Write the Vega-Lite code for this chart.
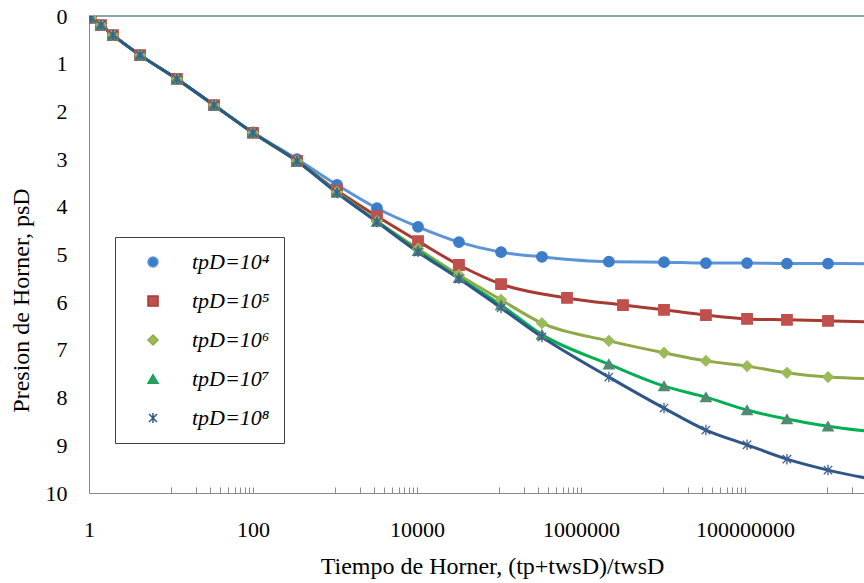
{
  "$schema": "https://vega.github.io/schema/vega-lite/v6.json",
  "width": 775,
  "height": 477,
  "autosize": {"type": "none"},
  "padding": {"left": 89, "top": 16, "right": 0, "bottom": 90},
  "background": "white",
  "config": {"view": {"stroke": null}},
  "data": {"values": [
    {"s":"tpD=10⁴","x":1.06,"y":0.04},{"s":"tpD=10⁴","x":1.4,"y":0.19},{"s":"tpD=10⁴","x":1.96,"y":0.4},{"s":"tpD=10⁴","x":4.2,"y":0.82},{"s":"tpD=10⁴","x":11.8,"y":1.32},{"s":"tpD=10⁴","x":33.5,"y":1.87},{"s":"tpD=10⁴","x":100,"y":2.44},{"s":"tpD=10⁴","x":344,"y":3.0},{"s":"tpD=10⁴","x":1060,"y":3.54},{"s":"tpD=10⁴","x":3250,"y":4.03},{"s":"tpD=10⁴","x":10300,"y":4.42},{"s":"tpD=10⁴","x":32500,"y":4.74},{"s":"tpD=10⁴","x":106000,"y":4.95},{"s":"tpD=10⁴","x":334000,"y":5.05},{"s":"tpD=10⁴","x":2190000,"y":5.15},{"s":"tpD=10⁴","x":10300000,"y":5.16},{"s":"tpD=10⁴","x":33400000,"y":5.18},{"s":"tpD=10⁴","x":106000000,"y":5.18},{"s":"tpD=10⁴","x":325000000,"y":5.19},{"s":"tpD=10⁴","x":1030000000,"y":5.19},{"s":"tpD=10⁴","x":8900000000,"y":5.2},
    {"s":"tpD=10⁵","x":1.06,"y":0.04},{"s":"tpD=10⁵","x":1.4,"y":0.19},{"s":"tpD=10⁵","x":1.96,"y":0.4},{"s":"tpD=10⁵","x":4.2,"y":0.82},{"s":"tpD=10⁵","x":11.8,"y":1.32},{"s":"tpD=10⁵","x":33.5,"y":1.87},{"s":"tpD=10⁵","x":100,"y":2.45},{"s":"tpD=10⁵","x":344,"y":3.04},{"s":"tpD=10⁵","x":1060,"y":3.66},{"s":"tpD=10⁵","x":3250,"y":4.2},{"s":"tpD=10⁵","x":10300,"y":4.72},{"s":"tpD=10⁵","x":32500,"y":5.22},{"s":"tpD=10⁵","x":106000,"y":5.62},{"s":"tpD=10⁵","x":675000,"y":5.91},{"s":"tpD=10⁵","x":3250000,"y":6.06},{"s":"tpD=10⁵","x":10300000,"y":6.16},{"s":"tpD=10⁵","x":33400000,"y":6.27},{"s":"tpD=10⁵","x":106000000,"y":6.35},{"s":"tpD=10⁵","x":325000000,"y":6.37},{"s":"tpD=10⁵","x":1030000000,"y":6.39},{"s":"tpD=10⁵","x":8900000000,"y":6.43},
    {"s":"tpD=10⁶","x":1.06,"y":0.04},{"s":"tpD=10⁶","x":1.4,"y":0.19},{"s":"tpD=10⁶","x":1.96,"y":0.4},{"s":"tpD=10⁶","x":4.2,"y":0.82},{"s":"tpD=10⁶","x":11.8,"y":1.32},{"s":"tpD=10⁶","x":33.5,"y":1.87},{"s":"tpD=10⁶","x":100,"y":2.45},{"s":"tpD=10⁶","x":344,"y":3.04},{"s":"tpD=10⁶","x":1060,"y":3.69},{"s":"tpD=10⁶","x":3250,"y":4.3},{"s":"tpD=10⁶","x":10300,"y":4.88},{"s":"tpD=10⁶","x":32500,"y":5.43},{"s":"tpD=10⁶","x":106000,"y":5.95},{"s":"tpD=10⁶","x":334000,"y":6.44},{"s":"tpD=10⁶","x":2190000,"y":6.81},{"s":"tpD=10⁶","x":10300000,"y":7.06},{"s":"tpD=10⁶","x":33400000,"y":7.23},{"s":"tpD=10⁶","x":106000000,"y":7.34},{"s":"tpD=10⁶","x":325000000,"y":7.48},{"s":"tpD=10⁶","x":1030000000,"y":7.57},{"s":"tpD=10⁶","x":8900000000,"y":7.62},
    {"s":"tpD=10⁷","x":1.06,"y":0.04},{"s":"tpD=10⁷","x":1.4,"y":0.19},{"s":"tpD=10⁷","x":1.96,"y":0.4},{"s":"tpD=10⁷","x":4.2,"y":0.82},{"s":"tpD=10⁷","x":11.8,"y":1.32},{"s":"tpD=10⁷","x":33.5,"y":1.87},{"s":"tpD=10⁷","x":100,"y":2.45},{"s":"tpD=10⁷","x":344,"y":3.04},{"s":"tpD=10⁷","x":1060,"y":3.7},{"s":"tpD=10⁷","x":3250,"y":4.31},{"s":"tpD=10⁷","x":10300,"y":4.92},{"s":"tpD=10⁷","x":32500,"y":5.49},{"s":"tpD=10⁷","x":106000,"y":6.06},{"s":"tpD=10⁷","x":334000,"y":6.68},{"s":"tpD=10⁷","x":2190000,"y":7.3},{"s":"tpD=10⁷","x":10300000,"y":7.76},{"s":"tpD=10⁷","x":33400000,"y":7.99},{"s":"tpD=10⁷","x":106000000,"y":8.26},{"s":"tpD=10⁷","x":325000000,"y":8.45},{"s":"tpD=10⁷","x":1030000000,"y":8.6},{"s":"tpD=10⁷","x":8900000000,"y":8.78},
    {"s":"tpD=10⁸","x":1.06,"y":0.04},{"s":"tpD=10⁸","x":1.4,"y":0.19},{"s":"tpD=10⁸","x":1.96,"y":0.4},{"s":"tpD=10⁸","x":4.2,"y":0.82},{"s":"tpD=10⁸","x":11.8,"y":1.32},{"s":"tpD=10⁸","x":33.5,"y":1.87},{"s":"tpD=10⁸","x":100,"y":2.45},{"s":"tpD=10⁸","x":344,"y":3.04},{"s":"tpD=10⁸","x":1060,"y":3.71},{"s":"tpD=10⁸","x":3250,"y":4.32},{"s":"tpD=10⁸","x":10300,"y":4.95},{"s":"tpD=10⁸","x":32500,"y":5.51},{"s":"tpD=10⁸","x":106000,"y":6.12},{"s":"tpD=10⁸","x":334000,"y":6.73},{"s":"tpD=10⁸","x":2190000,"y":7.57},{"s":"tpD=10⁸","x":10300000,"y":8.22},{"s":"tpD=10⁸","x":33400000,"y":8.68},{"s":"tpD=10⁸","x":106000000,"y":8.99},{"s":"tpD=10⁸","x":325000000,"y":9.29},{"s":"tpD=10⁸","x":1030000000,"y":9.52},{"s":"tpD=10⁸","x":8900000000,"y":9.83}
  ]},
  "encoding": {
    "x": {
      "field": "x", "type": "quantitative",
      "scale": {"type": "log", "domain": [1, 2830000000], "nice": false},
      "axis": {
        "title": "Tiempo de Horner, (tp+twsD)/twsD",
        "titleFont": "Liberation Serif", "titleFontSize": 24, "titleFontWeight": "normal", "titleColor": "#000000", "titlePadding": 14, "titleX": 403,
        "labelFont": "Liberation Serif", "labelFontSize": 22, "labelColor": "#000000", "labelPadding": 32,
        "labelOverlap": false, "labelFlush": false, "labelBound": false,
        "values": [1,10,20,30,40,50,60,70,80,90,100,1000,2000,3000,4000,5000,6000,7000,8000,9000,10000,100000,200000,300000,400000,500000,600000,700000,800000,900000,1000000,10000000,20000000,30000000,40000000,50000000,60000000,70000000,80000000,90000000,100000000,1000000000,2000000000],
        "labelExpr": "indexof([1,100,10000,1000000,100000000], datum.value) >= 0 ? format(datum.value, 'd') : ''",
        "grid": false, "tickSize": -6, "tickColor": "#8a8a8a", "domainColor": "#8a8a8a"
      }
    },
    "y": {
      "field": "y", "type": "quantitative",
      "scale": {"domain": [0, 10], "reverse": true, "nice": false},
      "axis": {
        "title": "Presion de Horner, psD",
        "titleFont": "Liberation Serif", "titleFontSize": 24, "titleFontWeight": "normal", "titleColor": "#000000", "titlePadding": 12, "titleY": 284,
        "labelFont": "Liberation Serif", "labelFontSize": 22, "labelColor": "#000000", "labelPadding": 22,
        "values": [0,1,2,3,4,5,6,7,8,9,10], "grid": false, "ticks": false, "domainColor": "#8a8a8a"
      }
    }
  },
  "layer": [
    {
      "mark": {"type": "rule", "color": "#8fa2b4", "strokeWidth": 1.5},
      "encoding": {"y": {"datum": 0}, "x": null}
    },
    {
      "mark": {"type": "line", "interpolate": "monotone", "strokeWidth": 3, "clip": true},
      "encoding": {
        "color": {"field": "s", "type": "nominal",
          "scale": {"domain": ["tpD=10⁴","tpD=10⁵","tpD=10⁶","tpD=10⁷","tpD=10⁸"], "range": ["#5b95d8","#a83a32","#8fa848","#00b050","#2f5687"]},
          "legend": {
            "title": null, "orient": "none", "legendX": 26, "legendY": 221,
            "padding": 14, "strokeColor": "#404040", "fillColor": "#ffffff", "cornerRadius": 0,
            "symbolSize": 100, "symbolOffset": 13, "symbolOpacity": 1, "symbolStrokeWidth": 1.5,
            "labelFont": "Liberation Serif", "labelFontSize": 22, "labelFontStyle": "italic", "labelColor": "#000000",
            "labelOffset": 28, "rowPadding": 17
          }
        }
      }
    },
    {
      "mark": {"type": "point", "filled": true, "size": 110, "strokeWidth": 1.3, "opacity": 1, "clip": true},
      "encoding": {
        "fill": {"field": "s", "type": "nominal",
          "scale": {"domain": ["tpD=10⁴","tpD=10⁵","tpD=10⁶","tpD=10⁷","tpD=10⁸"], "range": ["#3d7cc9","#c0504d","#9bbb59","#4f8a72","#3b5f92"]}},
        "stroke": {"field": "s", "type": "nominal",
          "scale": {"domain": ["tpD=10⁴","tpD=10⁵","tpD=10⁶","tpD=10⁷","tpD=10⁸"], "range": ["#3d7cc9","#c0504d","#9bbb59","#4f8a72","#3b5f92"]}},
        "shape": {"field": "s", "type": "nominal",
          "scale": {"domain": ["tpD=10⁴","tpD=10⁵","tpD=10⁶","tpD=10⁷","tpD=10⁸"], "range": ["circle","square","diamond","triangle-up","M-0.8,-0.8L0.8,0.8M-0.8,0.8L0.8,-0.8M0,-1V1"]}}
      }
    }
  ]
}
